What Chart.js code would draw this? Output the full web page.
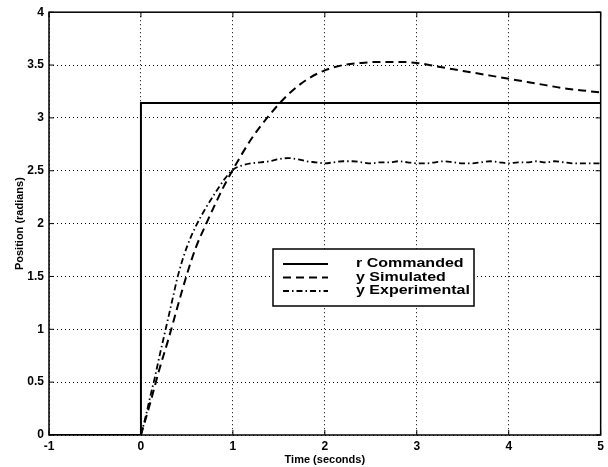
<!DOCTYPE html>
<html>
<head>
<meta charset="utf-8">
<script src="https://cdn.jsdelivr.net/npm/chart.js@4"></script>
<style>
  html, body { margin: 0; padding: 0; background: #fff; }
  #wrap { width: 608px; height: 467px; }
</style>
</head>
<body>
<div id="wrap"><canvas id="stepChart"></canvas></div>
<script>
// reference step (r)
const cmdTime = [-1, 0, 0, 5];
const cmdPos = [0, 0, 3.14, 3.14];

// simulated response
const simTime = [0, 0.1, 0.2, 0.3, 0.4, 0.5, 0.6, 0.7, 0.8, 0.9, 1.0, 1.2, 1.4, 1.6, 1.8, 2.0, 2.2, 2.4, 2.6, 2.8, 3.0, 3.2, 3.4, 3.6, 3.8, 4.0, 4.2, 4.4, 4.6, 4.8, 5.0];
const simPos = [0, 0.30, 0.62, 0.91, 1.22, 1.52, 1.78, 1.98, 2.17, 2.35, 2.51, 2.80, 3.03, 3.22, 3.36, 3.45, 3.50, 3.52, 3.53, 3.53, 3.52, 3.49, 3.46, 3.43, 3.40, 3.37, 3.34, 3.31, 3.28, 3.26, 3.24];

// experimental response
const expTime = [0, 0.05, 0.1, 0.15, 0.2, 0.25, 0.3, 0.35, 0.4, 0.5, 0.6, 0.7, 0.8, 0.9, 1.0, 1.1, 1.2, 1.3, 1.4, 1.5, 1.6, 1.7, 1.8, 1.9, 2.0, 2.1, 2.2, 2.3, 2.4, 2.5, 2.6, 2.7, 2.8, 2.9, 3.0, 3.1, 3.2, 3.3, 3.4, 3.5, 3.6, 3.7, 3.8, 3.9, 4.0, 4.1, 4.2, 4.3, 4.4, 4.5, 4.6, 4.7, 4.8, 4.9, 5.0];
const expPos = [0, 0.17, 0.36, 0.54, 0.74, 0.93, 1.12, 1.31, 1.50, 1.78, 1.98, 2.14, 2.28, 2.41, 2.51, 2.55, 2.57, 2.58, 2.59, 2.61, 2.62, 2.61, 2.59, 2.58, 2.57, 2.58, 2.59, 2.59, 2.58, 2.57, 2.58, 2.58, 2.59, 2.58, 2.57, 2.57, 2.58, 2.59, 2.58, 2.57, 2.57, 2.58, 2.59, 2.58, 2.57, 2.58, 2.58, 2.59, 2.58, 2.59, 2.58, 2.57, 2.57, 2.57, 2.57];

const seriesLabels = ["r Commanded", "y Simulated", "y Experimental"];
const xTicks = [-1, 0, 1, 2, 3, 4, 5];
const yTicks = [0, 0.5, 1, 1.5, 2, 2.5, 3, 3.5, 4];

const toPoints = (xs, ys) => xs.map((x, i) => ({ x: x, y: ys[i] }));
const FONT = "'Liberation Sans', Arial, Helvetica, sans-serif";

// box round the plot, with short inward ticks like matlab
const frameBox = {
  id: "frameBox",
  afterDatasetsDraw(chart) {
    const { ctx, chartArea: a, scales } = chart;
    ctx.save();
    ctx.strokeStyle = "#000";
    ctx.lineWidth = 1.5;
    ctx.setLineDash([]);
    ctx.strokeRect(a.left, a.top, a.right - a.left, a.bottom - a.top);
    ctx.lineWidth = 1;
    ctx.beginPath();
    xTicks.forEach(v => {
      const px = scales.x.getPixelForValue(v);
      ctx.moveTo(px, a.bottom); ctx.lineTo(px, a.bottom - 5);
      ctx.moveTo(px, a.top); ctx.lineTo(px, a.top + 5);
    });
    yTicks.forEach(v => {
      const py = scales.y.getPixelForValue(v);
      ctx.moveTo(a.left, py); ctx.lineTo(a.left + 5, py);
      ctx.moveTo(a.right, py); ctx.lineTo(a.right - 5, py);
    });
    ctx.stroke();
    ctx.restore();
  }
};

// boxed legend sitting inside the plot
const boxLegend = {
  id: "boxLegend",
  afterDraw(chart) {
    const { ctx } = chart;
    const left = 273, top = 249, w = 201, h = 57;
    ctx.save();
    ctx.fillStyle = "#fff";
    ctx.fillRect(left, top, w, h);
    ctx.strokeStyle = "#000";
    ctx.lineWidth = 1.5;
    ctx.setLineDash([]);
    ctx.strokeRect(left, top, w, h);
    const rows = [264, 277.5, 291];
    chart.data.datasets.forEach((ds, i) => {
      const y = rows[i];
      ctx.beginPath();
      ctx.lineWidth = ds.borderWidth;
      ctx.setLineDash(ds.borderDash || []);
      ctx.moveTo(283, y);
      ctx.lineTo(328, y);
      ctx.stroke();
      ctx.setLineDash([]);
      ctx.fillStyle = "#000";
      ctx.font = "bold 12.5px " + FONT;
      ctx.textBaseline = "middle";
      ctx.save();
      ctx.translate(356, y);
      ctx.scale(1.28, 1);
      ctx.fillText(ds.label, 0, 0);
      ctx.restore();
    });
    ctx.restore();
  }
};

const stepCtx = document.getElementById("stepChart").getContext("2d");
const stepChart = new Chart(stepCtx, {
  type: "line",
  data: {
    datasets: [
      {
        label: seriesLabels[0],
        data: toPoints(cmdTime, cmdPos),
        borderColor: "#000",
        borderWidth: 2,
        pointRadius: 0,
        tension: 0
      },
      {
        label: seriesLabels[1],
        data: toPoints(simTime, simPos),
        borderColor: "#000",
        borderWidth: 2,
        borderDash: [8, 5],
        pointRadius: 0,
        cubicInterpolationMode: "monotone"
      },
      {
        label: seriesLabels[2],
        data: toPoints(expTime, expPos),
        borderColor: "#000",
        borderWidth: 1.8,
        borderDash: [6, 3, 1.5, 3],
        pointRadius: 0,
        cubicInterpolationMode: "monotone"
      }
    ]
  },
  options: {
    responsive: true,
    maintainAspectRatio: false,
    animation: false,
    layout: {
      padding: { top: 10, right: 6, left: 0, bottom: 0 }
    },
    plugins: {
      legend: { display: false },
      tooltip: { enabled: false }
    },
    scales: {
      x: {
        type: "linear",
        min: -1,
        max: 5,
        afterBuildTicks: (scale) => { scale.ticks = xTicks.map(v => ({ value: v })); },
        afterFit: (scale) => { scale.height = 32; },
        ticks: {
          color: "#000",
          padding: 4,
          callback: (v) => String(v),
          font: { family: FONT, size: 12, weight: "bold" }
        },
        grid: { color: "#000", lineWidth: 1, drawTicks: false },
        border: { display: false, dash: [1, 3] },
        title: {
          display: true,
          text: "Time (seconds)",
          color: "#000",
          padding: { top: 0, bottom: 0 },
          font: { family: FONT, size: 11, weight: "bold" }
        }
      },
      y: {
        type: "linear",
        min: 0,
        max: 4,
        afterBuildTicks: (scale) => { scale.ticks = yTicks.map(v => ({ value: v })); },
        afterFit: (scale) => { scale.width = 49; },
        ticks: {
          color: "#000",
          padding: 5,
          callback: (v) => String(v),
          font: { family: FONT, size: 12, weight: "bold" }
        },
        grid: { color: "#000", lineWidth: 1, drawTicks: false },
        border: { display: false, dash: [1, 3] },
        title: {
          display: true,
          text: "Position (radians)",
          color: "#000",
          padding: { top: 13, bottom: 0 },
          font: { family: FONT, size: 11, weight: "bold" }
        }
      }
    }
  },
  plugins: [frameBox, boxLegend]
});
</script>
</body>
</html>
